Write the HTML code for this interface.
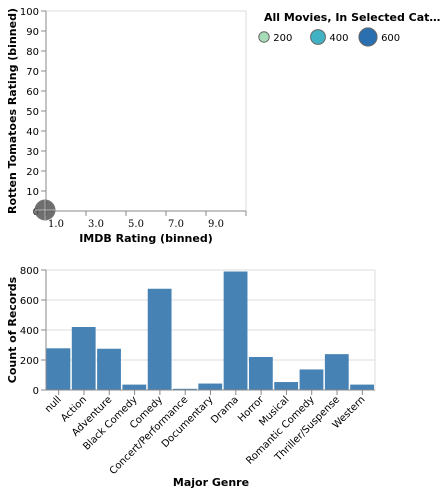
<!DOCTYPE html>
<html><head><meta charset="utf-8"><style>
body{margin:0;background:#fff;}
svg{font-family:"DejaVu Sans","Liberation Sans",sans-serif;}
</style></head><body>
<svg id="c" width="447" height="494" xmlns="http://www.w3.org/2000/svg"></svg>
<script>
const scatterXTicks=["1.0","3.0","5.0","7.0","9.0"];
const scatterYTicks=[0,10,20,30,40,50,60,70,80,90,100];
const pointX=[0];
const pointY=[0];
const pointCount=[900];
const genres=["null","Action","Adventure","Black Comedy","Comedy","Concert/Performance","Documentary","Drama","Horror","Musical","Romantic Comedy","Thriller/Suspense","Western"];
const counts=[278,420,275,36,675,8,43,790,220,53,137,239,36];
const barYTicks=[0,200,400,600,800];
const legendValues=[200,400,600];
const legendColors=["#a6dcb8","#40b2c3","#2a70b1"];

const svg=document.getElementById('c');
const NS="http://www.w3.org/2000/svg";
function mk(tag,attrs,parent,text){const e=document.createElementNS(NS,tag);for(const k in attrs)e.setAttribute(k,attrs[k]);if(text!==undefined)e.textContent=text;(parent||svg).appendChild(e);return e;}

// scatter
const sx0=46,sx1=246,sy0=211,sy1=11;
const sxs=v=>sx0+(v/10)*(sx1-sx0);
const sys=v=>sy0-(v/100)*(sy0-sy1);
let g=mk('g',{});


mk('rect',{x:sx0,y:sy1,width:sx1-sx0,height:sy0-sy1,fill:'none',stroke:'#ddd'},g);
scatterYTicks.forEach(v=>{
  mk('line',{x1:sx0-5,x2:sx0,y1:sys(v),y2:sys(v),stroke:'#888'},g);
  const t=mk('text',{x:sx0-7,y:sys(v)+4,'text-anchor':'end','font-size':10,fill:'#000'},g,v);
  
  
});
mk('line',{x1:sx0,x2:sx0,y1:sy1,y2:sy0,stroke:'#888'},g);
mk('line',{x1:sx0,x2:sx1,y1:sy0,y2:sy0,stroke:'#888'},g);
[0,2,4,6,8,10].forEach(v=>{mk('line',{x1:sxs(v),x2:sxs(v),y1:sy0,y2:sy0+5,stroke:'#888'},g);});
scatterXTicks.forEach((l,i)=>{
  const t=mk('text',{x:sxs(i*2)+10,y:sy0+16,'text-anchor':'middle','font-size':10,fill:'#000','font-family':'DejaVu Serif,serif'},g,l);
  
  
});
let t=mk('text',{x:146,y:242,'text-anchor':'middle','font-size':11,'font-weight':'bold'},g,'IMDB Rating (binned)');

t=mk('text',{transform:'translate(16,111) rotate(-90)','text-anchor':'middle','font-size':11,'font-weight':'bold'},g,'Rotten Tomatoes Rating (binned)');

pointX.forEach((x,i)=>{
  const r=Math.sqrt(pointCount[i])/3;
  const cx=sxs(x)-1, cy=sys(pointY[i])-1;
  const c=mk('circle',{cx:cx,cy:cy,r:r,fill:'#555','fill-opacity':0.85,stroke:'#777'},g);
  
  
  mk('line',{x1:cx-r,x2:cx+r,y1:cy,y2:cy,stroke:'#ccc','stroke-width':0.7},g);
  mk('line',{x1:cx,x2:cx,y1:cy-r,y2:cy+r,stroke:'#ccc','stroke-width':0.7},g);
});

// legend
g=mk('g',{});


t=mk('text',{x:264,y:21,'font-size':11,'font-weight':'bold'},g,'All Movies, In Selected Cat…');

const lx=[264,318,368];
legendValues.forEach((v,i)=>{
  const r=Math.sqrt(v)/2.7;
  const c=mk('circle',{cx:lx[i],cy:37,r:r,fill:legendColors[i],stroke:'#666','stroke-width':1},g);
  
  
  mk('text',{x:lx[i]+r+4,y:41,'font-size':10},g,v);
});

// bar chart
const bx0=46,bx1=375,by0=390,by1=270;
const bw=(bx1-bx0)/genres.length;
const bys=v=>by0-(v/800)*(by0-by1);
g=mk('g',{});


barYTicks.forEach(v=>{
  mk('line',{x1:bx0,x2:bx1,y1:bys(v),y2:bys(v),stroke:'#ddd'},g);
  mk('line',{x1:bx0-5,x2:bx0,y1:bys(v),y2:bys(v),stroke:'#888'},g);
  const tt=mk('text',{x:bx0-7,y:bys(v)+4,'text-anchor':'end','font-size':10},g,v);
  
});
mk('line',{x1:bx1,x2:bx1,y1:by1,y2:by0,stroke:'#ddd'},g);
genres.forEach((gname,i)=>{
  const x=bx0+i*bw;
  const b=mk('rect',{x:x+0.5,y:bys(counts[i]),width:bw-1.5,height:by0-bys(counts[i]),fill:'#4682b4'},g);
  
  
  const cx=x+bw/2;
  mk('line',{x1:cx,x2:cx,y1:by0,y2:by0+5,stroke:'#888'},g);
  const tt=mk('text',{transform:`translate(${cx+3},${by0+10}) rotate(-45)`,'text-anchor':'end','font-size':10},g,gname);
  
});
mk('line',{x1:bx0,x2:bx0,y1:by1,y2:by0,stroke:'#888'},g);
mk('line',{x1:bx0,x2:bx1,y1:by0,y2:by0,stroke:'#888'},g);
t=mk('text',{x:211,y:486,'text-anchor':'middle','font-size':11,'font-weight':'bold'},g,'Major Genre');

t=mk('text',{transform:'translate(16,330) rotate(-90)','text-anchor':'middle','font-size':11,'font-weight':'bold'},g,'Count of Records');

</script>
</body></html>
